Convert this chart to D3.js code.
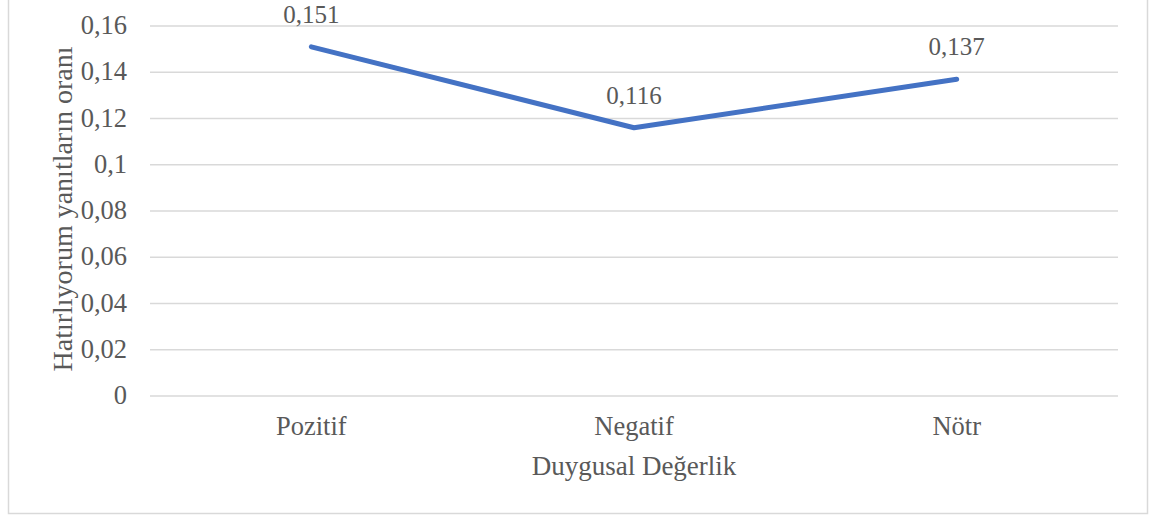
<!DOCTYPE html>
<html>
<head>
<meta charset="utf-8">
<script src="https://cdn.jsdelivr.net/npm/d3@7"></script>
<style>
    body { margin: 0; background: #fff; }
</style>
</head>
<body>
<div id="chart"></div>
<script>
// data
var categories = ['Pozitif', 'Negatif', 'Nötr']
var values = [0.151, 0.116, 0.137]
var yTicks = [0, 0.02, 0.04, 0.06, 0.08, 0.1, 0.12, 0.14, 0.16]
var xTitle = 'Duygusal Değerlik'
var yTitle = 'Hatırlıyorum yanıtların oranı'

var W = 1160, H = 517
var plot = { left: 150, right: 1118, top: 26, bottom: 396 }
var FONT = "'Liberation Serif', 'Times New Roman', Tinos, 'DejaVu Serif', serif"
var fmt = function (v) { return String(v).replace('.', ',') }

var svg = d3.select('#chart').append('svg')
    .attr('width', W).attr('height', H)
    .attr('font-family', FONT)
    .attr('fill', '#595959')

// outer frame
svg.append('rect')
    .attr('x', 8.5).attr('y', -2).attr('width', 1139).attr('height', 515.5)
    .attr('fill', 'none').attr('stroke', '#d9d9d9').attr('stroke-width', 1.5)

var x = d3.scalePoint().domain(categories)
    .range([plot.left, plot.right]).padding(0.5)
var y = d3.scaleLinear().domain([0, 0.16]).range([plot.bottom, plot.top])

// gridlines
svg.append('g').selectAll('line')
    .data(yTicks)
    .enter().append('line')
    .attr('x1', plot.left).attr('x2', plot.right)
    .attr('y1', d => y(d)).attr('y2', d => y(d))
    .attr('stroke', '#d9d9d9').attr('stroke-width', 1.5)

// y tick labels
svg.append('g').selectAll('text')
    .data(yTicks)
    .enter().append('text')
    .attr('x', 127).attr('y', d => y(d) + 8)
    .attr('text-anchor', 'end')
    .attr('font-size', 26.5)
    .text(d => fmt(d))

// x tick labels
svg.append('g').selectAll('text')
    .data(categories)
    .enter().append('text')
    .attr('x', d => x(d)).attr('y', 435)
    .attr('text-anchor', 'middle')
    .attr('font-size', 26.5)
    .text(d => d)

// axis titles
svg.append('text')
    .attr('x', (plot.left + plot.right) / 2).attr('y', 475)
    .attr('text-anchor', 'middle')
    .attr('font-size', 27)
    .text(xTitle)

svg.append('text')
    .attr('transform', 'translate(72,209) rotate(-90)')
    .attr('text-anchor', 'middle')
    .attr('font-size', 28)
    .text(yTitle)

// the line
var pts = categories.map((c, i) => ({ c: c, v: values[i] }))
svg.append('path')
    .datum(pts)
    .attr('fill', 'none')
    .attr('stroke', '#4472c4')
    .attr('stroke-width', 5)
    .attr('stroke-linecap', 'round')
    .attr('stroke-linejoin', 'round')
    .attr('d', d3.line().x(d => x(d.c)).y(d => y(d.v)))

// data labels
svg.append('g').selectAll('text')
    .data(pts)
    .enter().append('text')
    .attr('x', d => x(d.c)).attr('y', d => y(d.v) - 24)
    .attr('text-anchor', 'middle')
    .attr('font-size', 25)
    .text(d => fmt(d.v))
</script>
</body>
</html>
